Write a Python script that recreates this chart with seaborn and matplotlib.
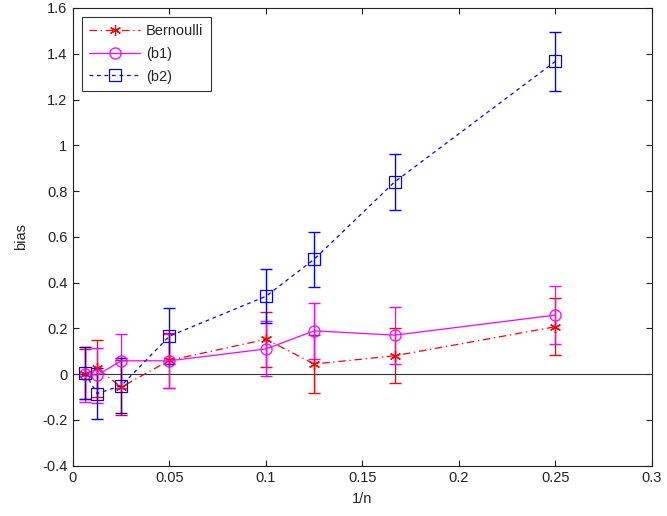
import matplotlib
matplotlib.use("Agg")
import matplotlib.pyplot as plt
from matplotlib.ticker import FormatStrFormatter, MultipleLocator
import numpy as np
import pandas as pd
import seaborn as sns

# 1/n values for n = 160, 80, 40, 20, 10, 8, 6, 4
inv_n = [1 / 160, 1 / 80, 1 / 40, 1 / 20, 1 / 10, 1 / 8, 1 / 6, 1 / 4]

bern = [0.0, 0.025, -0.057, 0.06, 0.152, 0.044, 0.08, 0.207]
bern_err = [0.11, 0.125, 0.12, 0.12, 0.12, 0.125, 0.12, 0.125]

b1 = [0.0, -0.005, 0.058, 0.058, 0.11, 0.189, 0.17, 0.258]
b1_err = [0.12, 0.12, 0.117, 0.118, 0.12, 0.122, 0.125, 0.127]

b2 = [0.005, -0.085, -0.051, 0.166, 0.34, 0.502, 0.84, 1.367]
b2_err = [0.115, 0.11, 0.12, 0.121, 0.118, 0.12, 0.122, 0.129]

series = [
    ("Bernoulli", bern, bern_err, "#ff0000", (0, (6, 3, 1, 3)), (6, 2, 0)),
    ("(b1)", b1, b1_err, "#ff00ff", "-", "o"),
    ("(b2)", b2, b2_err, "#0000ff", (0, (3, 3)), "s"),
]

sns.set_style("ticks")
plt.rcParams["font.family"] = ["Liberation Sans", "DejaVu Sans"]
plt.rcParams["font.size"] = 10.5

fig = plt.figure(figsize=(6.67, 5.16), dpi=100)
ax = fig.add_axes([0.1094, 0.0977, 0.8681, 0.8868])

ax.axhline(0, color="#333333", lw=0.8, zorder=1)

for name, y, err, color, ls, mk in series:
    df = pd.DataFrame({"x": inv_n, "y": y})
    ax.errorbar(df["x"], df["y"], yerr=err, fmt="none", ecolor=color,
                elinewidth=1.0, capsize=4, capthick=1.0, zorder=2)
    star = not isinstance(mk, str)
    sns.lineplot(data=df, x="x", y="y", ax=ax, color=color, lw=0.9,
                 linestyle=ls, marker=mk, markersize=8,
                 markerfacecolor=color if star else "none",
                 markeredgecolor=color, markeredgewidth=0.9,
                 label=name, zorder=3, sort=False)

ax.set_xlim(0, 0.3)
ax.set_ylim(-0.4, 1.6)
ax.xaxis.set_major_locator(MultipleLocator(0.05))
ax.yaxis.set_major_locator(MultipleLocator(0.2))
ax.xaxis.set_major_formatter(FormatStrFormatter("%g"))
ax.yaxis.set_major_formatter(
    plt.FuncFormatter(lambda v, p: "0" if abs(v) < 1e-9 else f"{v:g}"))
ax.tick_params(direction="in", top=True, right=True, length=4,
               width=0.8, labelsize=10.5, colors="#222222", pad=4)
for s in ax.spines.values():
    s.set_linewidth(0.8)
    s.set_color("#222222")

ax.set_xlabel("1/n", fontsize=10.5, labelpad=5)
ax.set_ylabel("bias", fontsize=10.5, labelpad=10)

leg = ax.legend(loc="upper left", fontsize=10.5, frameon=True, fancybox=False,
                edgecolor="black", handlelength=3.5, borderaxespad=0.6,
                labelspacing=0.6, borderpad=0.5, handletextpad=0.4)
leg.get_frame().set_linewidth(0.8)

fig.savefig("out.png", dpi=100)
